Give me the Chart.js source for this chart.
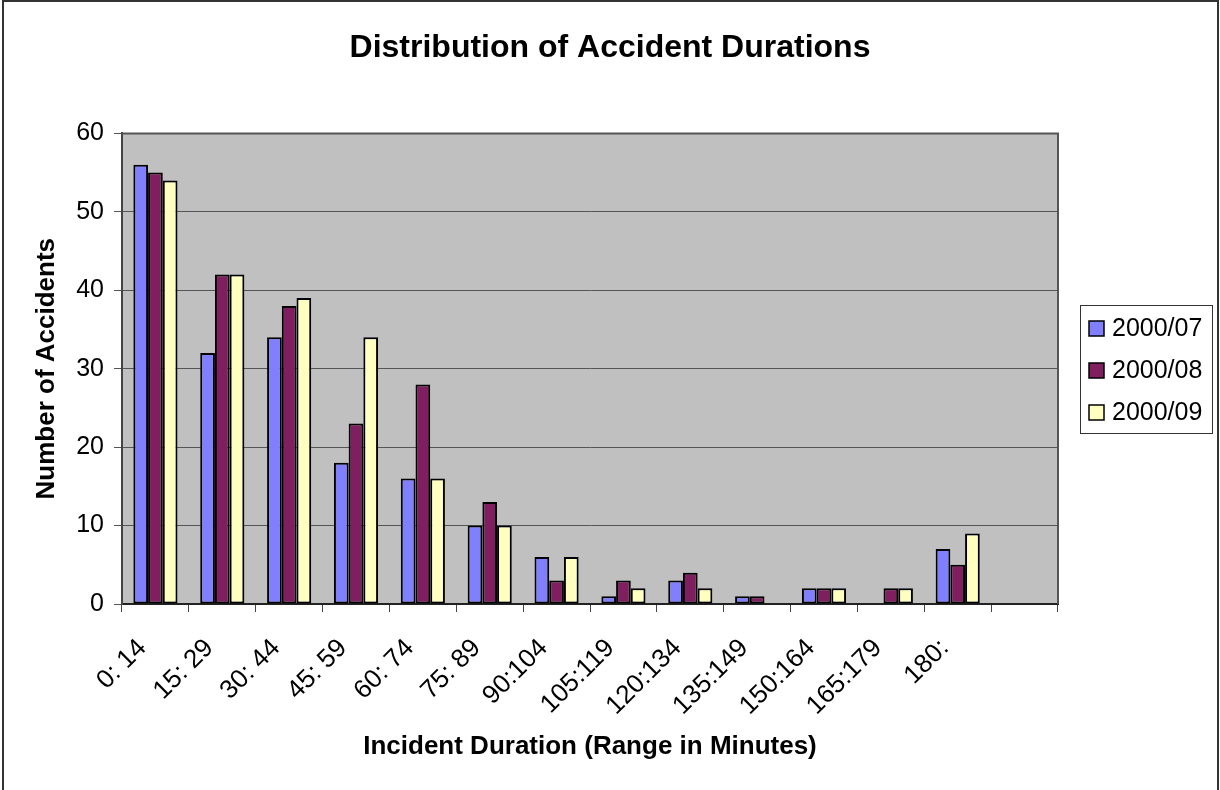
<!DOCTYPE html>
<html>
<head>
<meta charset="utf-8">
<title>Distribution of Accident Durations</title>
<script src="https://cdn.jsdelivr.net/npm/chart.js@4/dist/chart.umd.min.js"></script>
<style>
    html, body { margin: 0; padding: 0; background: #fff; }
    #wrap { width: 1220px; height: 790px; }
</style>
</head>
<body>
<div id="wrap"><canvas id="durationChart" width="1220" height="790"></canvas></div>
<script>
// duration ranges (last slot is left empty in the original)
const categories = ['0: 14', '15: 29', '30: 44', '45: 59', '60: 74', '75: 89', '90:104',
    '105:119', '120:134', '135:149', '150:164', '165:179', '180:', ''];
const seriesNames = ['2000/07', '2000/08', '2000/09'];
const jul = [56, 32, 34, 18, 16, 10, 6, 1, 3, 1, 2, 0, 7, null];
const aug = [55, 42, 38, 23, 28, 13, 3, 3, 4, 1, 2, 2, 5, null];
const sep = [54, 42, 39, 34, 16, 10, 6, 2, 2, 0, 2, 2, 9, null];
const yTicks = [0, 10, 20, 30, 40, 50, 60];

const seriesColors = ['#8080ff', '#7f1f5f', '#ffffc0'];
const fontFamily = '"Liberation Sans", Arial, Helvetica, sans-serif';

// grey plot background + frame around the whole picture
const plotBackground = {
    id: 'plotBackground',
    beforeDraw(chart) {
        const { ctx, chartArea: a } = chart;
        ctx.save();
        ctx.fillStyle = '#c0c0c0';
        ctx.fillRect(a.left, a.top, a.right - a.left, a.bottom - a.top);
        ctx.restore();
    },
    beforeDatasetsDraw(chart) {
        const { ctx, chartArea: a } = chart;
        ctx.save();
        ctx.strokeStyle = '#555';
        ctx.lineWidth = 2;
        ctx.beginPath();
        ctx.moveTo(a.left, a.top);
        ctx.lineTo(a.right, a.top);
        ctx.lineTo(a.right, a.bottom);
        ctx.stroke();
        ctx.restore();
    },
    afterDraw(chart) {
        const ctx = chart.ctx;
        ctx.save();
        ctx.strokeStyle = '#333';
        ctx.lineWidth = 2;
        ctx.beginPath();
        ctx.moveTo(3, 790);
        ctx.lineTo(3, 1);
        ctx.lineTo(1218, 1);
        ctx.lineTo(1218, 790);
        ctx.stroke();
        ctx.restore();
    }
};

// boxed legend on the right, like the spreadsheet one
const boxLegend = {
    id: 'boxLegend',
    afterDraw(chart) {
        const { ctx, chartArea: a } = chart;
        const sets = chart.data.datasets;
        const left = a.right + 22, top = 305, w = 132, rowH = 42;
        const h = rowH * sets.length + 2;
        ctx.save();
        ctx.strokeStyle = '#333';
        ctx.lineWidth = 1;
        ctx.strokeRect(left + 0.5, top + 0.5, w, h);
        ctx.font = '25px ' + fontFamily;
        ctx.textBaseline = 'middle';
        ctx.textAlign = 'left';
        sets.forEach((ds, i) => {
            const cy = top + 24 + i * rowH;
            ctx.fillStyle = ds.backgroundColor;
            ctx.fillRect(left + 9, cy - 8, 15, 15);
            ctx.strokeStyle = '#000';
            ctx.lineWidth = 1.5;
            ctx.strokeRect(left + 9, cy - 8, 15, 15);
            ctx.fillStyle = '#000';
            ctx.fillText(ds.label, left + 32, cy);
        });
        ctx.restore();
    }
};

new Chart(document.getElementById('durationChart').getContext('2d'), {
    type: 'bar',
    data: {
        labels: categories,
        datasets: [jul, aug, sep].map((values, i) => ({
            label: seriesNames[i],
            data: values,
            backgroundColor: seriesColors[i],
            borderColor: '#000',
            borderWidth: 2,
            borderSkipped: false,
            categoryPercentage: 0.66,
            barPercentage: 1.0
        }))
    },
    options: {
        responsive: false,
        animation: false,
        layout: { padding: { left: 0, right: 0, top: 0, bottom: 24 } },
        plugins: {
            legend: { display: false },
            tooltip: { enabled: false },
            title: {
                display: true,
                text: 'Distribution of Accident Durations',
                color: '#000',
                font: { family: fontFamily, size: 32, weight: 'bold' },
                padding: { top: 29, bottom: 66 }
            }
        },
        scales: {
            x: {
                grid: {
                    offset: true,
                    drawOnChartArea: false,
                    drawTicks: true,
                    tickLength: 8,
                    color: '#444',
                    lineWidth: 1
                },
                border: { color: '#222', width: 2 },
                ticks: {
                    color: '#000',
                    font: { family: fontFamily, size: 26 },
                    minRotation: 45,
                    maxRotation: 45,
                    autoSkip: false,
                    labelOffset: -13,
                    padding: 21
                },
                title: {
                    display: true,
                    text: 'Incident Duration (Range in Minutes)',
                    color: '#000',
                    font: { family: fontFamily, size: 26, weight: 'bold' },
                    padding: { top: 4, bottom: 4 }
                },
                afterFit(scale) { scale.height = 162; }
            },
            y: {
                min: 0,
                max: 60,
                afterBuildTicks(scale) { scale.ticks = yTicks.map(v => ({ value: v })); },
                grid: {
                    color: '#555',
                    lineWidth: 1,
                    tickLength: 8
                },
                border: { color: '#444', width: 2 },
                ticks: {
                    color: '#000',
                    font: { family: fontFamily, size: 25 },
                    padding: 10
                },
                title: {
                    display: true,
                    text: 'Number of Accidents',
                    color: '#000',
                    font: { family: fontFamily, size: 26, weight: 'bold' },
                    padding: { top: 31, bottom: 4 }
                },
                afterFit(scale) { scale.width = 122; }
            },
            // empty right-hand axis keeps room for the legend
            side: {
                axis: 'y',
                position: 'right',
                display: true,
                grid: { display: false },
                border: { display: false },
                ticks: { display: false },
                afterFit(scale) { scale.width = 162; }
            }
        }
    },
    plugins: [plotBackground, boxLegend]
});
</script>
</body>
</html>
